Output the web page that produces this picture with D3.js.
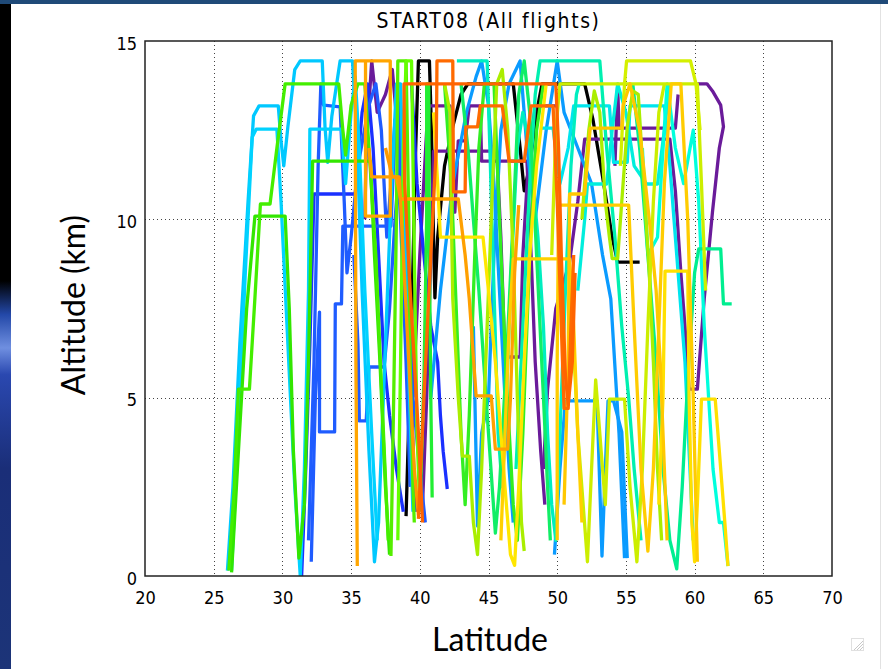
<!DOCTYPE html>
<html><head><meta charset="utf-8">
<script src="https://cdn.jsdelivr.net/npm/d3@7/dist/d3.min.js"></script>
<style>body{margin:0;background:#fff}svg{display:block}</style>
</head><body>
<script>
// ---- data: each flight is a list of [latitude, altitude km] ----
const xTicks = [20,25,30,35,40,45,50,55,60,65,70];
const yTicks = [0,5,10,15];
const title = "START08 (All flights)";

const flight01 = [[39.0,1.68],[39.4,7.0],[39.7,12.0],[39.9,14.44],[40.7,14.44],[40.85,12.5],[41.0,9.5],[41.1,7.8],[41.3,9.5],[41.8,11.5],[42.4,12.6],[43.0,13.5],[43.5,13.8],[46.8,13.8],[47.3,12.0],[47.6,10.8],[48.0,11.5],[48.5,13.0],[48.9,13.8],[52.0,13.8],[52.6,12.8],[53.3,11.2],[54.0,9.5],[54.4,8.8],[56.0,8.8]];
const flight02 = [[36.0,10.0],[36.1,12.0],[36.5,14.44],[36.9,13.0],[37.5,13.5],[38.0,14.2],[38.5,12.0],[39.0,9.0],[39.3,7.5],[39.4,5.0],[39.6,2.5],[39.8,1.8]];
const flight03 = [[40.2,2.0],[40.5,5.0],[40.8,9.0],[41.0,11.91],[45.6,11.91],[45.9,9.5],[46.2,6.14],[47.3,6.14],[47.5,9.0],[47.9,11.6],[48.4,13.18],[50.1,13.18]];
const flight04 = [[39.5,5.0],[40.0,9.0],[40.5,12.5],[40.7,13.18],[42.2,13.18],[42.25,10.2],[42.55,10.2],[42.8,12.2],[43.3,12.2],[43.6,13.18],[44.4,13.18],[44.5,11.63],[47.8,11.63],[48.1,9.0],[48.4,6.0],[48.8,3.5],[49.1,2.0]];
const flight05 = [[49.0,3.0],[49.3,5.24],[49.9,7.5],[50.9,8.8],[51.5,10.5],[52.0,12.25],[58.2,12.25],[58.6,10.8],[59.0,8.5],[59.3,7.0],[59.6,5.24],[60.2,5.24],[60.7,7.77],[61.3,10.2],[61.8,12.0],[62.1,12.6],[61.9,13.2],[61.3,13.6],[60.9,13.8],[60.2,13.8]];
const flight06 = [[54.2,11.5],[54.4,13.74],[54.5,12.56],[58.6,12.56],[58.8,13.5]];
const flight07 = [[31.4,0.0],[31.7,3.0],[32.0,6.5],[32.3,10.71],[35.3,10.71],[35.8,13.0],[36.2,13.8],[36.6,12.0],[37.0,9.0],[37.4,6.0],[37.8,4.5],[38.3,3.0],[38.8,1.8]];
const flight08 = [[39.4,13.8],[39.8,11.0],[40.3,9.0],[40.8,7.0],[41.3,6.0],[41.5,4.5],[41.7,3.5],[42.0,2.44]];
const flight09 = [[32.1,0.4],[32.4,5.0],[32.7,7.4],[32.7,4.04],[33.8,4.04],[33.85,7.63],[34.3,7.63],[34.4,9.81],[37.9,9.81],[38.2,12.5],[38.4,13.6],[38.7,11.0],[39.0,7.0],[39.4,3.0],[39.6,1.8]];
const flight10 = [[31.9,1.0],[32.3,6.0],[32.6,11.5],[32.8,13.8],[33.0,13.2],[34.2,13.15],[34.5,10.5],[34.7,8.5],[35.0,9.5],[35.5,11.5],[36.3,13.2],[36.8,13.8],[37.2,12.5],[37.6,9.5],[37.9,11.0],[38.2,12.8],[38.6,10.0],[39.0,6.0],[39.3,2.5]];
const flight11 = [[35.2,9.0],[35.5,6.5],[35.6,4.35],[36.1,4.35],[36.3,5.86],[37.4,5.86],[37.8,7.5],[38.2,10.0],[38.6,12.0],[39.0,9.0],[39.5,5.0],[40.0,3.0],[40.4,1.5]];
const flight12 = [[49.8,0.6],[50.2,3.0],[50.6,4.91],[52.9,4.91],[53.1,2.5],[53.26,0.56],[53.5,3.0],[53.7,4.91],[54.1,4.91],[54.7,4.04],[55.1,0.5]];
const flight13 = [[43.9,7.0],[44.2,1.4],[44.5,4.0],[45.0,5.0],[45.4,9.0],[45.9,12.5],[46.5,13.8],[47.3,14.44],[47.8,12.0],[48.4,10.0],[49.2,12.5],[50.0,14.44],[50.5,13.0],[51.5,12.0],[52.5,11.0],[53.3,9.0],[53.9,7.77],[54.5,4.0],[54.9,0.5]];
const flight14 = [[40.8,5.0],[41.5,8.0],[42.4,11.0],[43.4,13.0],[44.1,14.0],[44.5,14.44],[45.0,13.2],[45.4,11.0],[45.8,8.0],[46.2,5.0],[46.5,3.0],[46.8,1.5]];
const flight15 = [[26.0,0.15],[26.4,2.5],[26.9,6.5],[27.5,10.5],[27.9,12.9],[28.3,13.18],[29.7,13.18],[29.9,12.2],[30.1,11.5],[30.4,12.6],[30.9,14.2],[31.3,14.44],[32.9,14.44],[33.1,12.6],[33.3,11.6],[33.6,12.9],[34.2,14.44],[35.1,14.44],[35.4,12.5],[35.8,8.0],[36.3,3.5],[36.7,0.4],[37.0,1.5],[37.4,5.5],[37.9,10.5],[38.3,13.8],[38.6,13.8],[39.1,7.0],[39.5,1.8]];
const flight16 = [[26.3,0.15],[26.8,4.2],[27.3,8.5],[27.8,12.3],[28.1,12.53],[29.6,12.53],[29.9,10.5],[30.4,6.5],[30.9,2.5],[31.3,0.0],[31.6,3.0],[31.9,8.0],[32.0,12.53],[34.3,12.53],[34.6,11.0],[35.0,13.0],[35.3,14.0],[35.6,12.0],[36.0,8.0],[36.5,4.0],[36.9,1.0]];
const flight17 = [[48.75,12.56],[49.7,12.56],[50.2,11.0],[50.8,12.0],[51.2,13.18],[53.8,13.18],[54.1,11.6],[55.1,11.6],[55.3,13.18],[57.8,13.18],[58.2,11.5],[58.7,9.0],[59.3,6.0],[59.6,3.5],[59.9,1.0]];
const flight18 = [[51.5,8.0],[52.0,10.0],[52.2,10.99],[53.6,10.99],[54.0,12.5],[54.4,13.8],[55.0,13.0],[55.6,11.5],[56.5,10.99],[57.3,10.99],[57.8,12.5],[58.2,13.8]];
const flight19 = [[56.2,12.0],[56.6,9.0],[57.3,9.5],[58.0,13.8],[58.6,12.0],[59.2,11.0],[59.9,12.5],[60.3,10.5],[60.7,7.0],[61.1,4.5],[61.34,3.0],[61.8,1.5],[62.1,1.5],[62.43,0.28]];
const flight20 = [[42.7,14.44],[44.9,14.44],[45.1,12.0],[45.4,8.0],[45.7,4.0],[46.0,2.5],[46.3,5.0],[46.7,9.0],[47.1,12.0],[47.5,13.0],[48.0,12.0],[48.6,9.5],[49.0,7.0],[49.3,4.0],[49.6,2.0],[49.9,1.0],[50.2,4.0],[50.6,8.0],[51.0,11.5],[51.4,13.5],[51.6,13.8]];
const flight21 = [[47.0,3.0],[47.5,7.0],[48.0,11.0],[48.4,13.5],[48.75,14.44],[53.1,14.44],[53.6,12.0],[54.2,9.5],[54.7,7.0],[55.2,5.0],[55.6,3.0],[56.1,1.0]];
const flight22 = [[55.5,13.8],[56.0,12.0],[56.6,9.0],[57.2,6.0],[57.7,3.0],[58.2,1.0],[58.7,0.2],[59.1,2.5],[59.5,5.5],[60.0,8.5],[60.3,9.17],[61.9,9.17],[62.1,7.63],[62.7,7.63]];
const flight23 = [[43.0,13.8],[43.5,12.0],[44.3,8.0],[45.0,4.0],[45.5,1.2],[45.8,2.5],[46.3,6.0],[46.8,10.0],[47.2,13.5],[47.6,14.44],[48.0,13.0],[48.5,9.0],[49.0,5.0],[49.3,2.5],[49.5,1.0]];
const flight24 = [[40.0,1.8],[40.3,5.5],[40.5,10.0],[40.5,13.8],[40.65,13.8],[40.7,9.0],[40.8,5.0],[40.9,2.2]];
const flight25 = [[41.8,13.8],[42.3,11.0],[42.7,7.0],[43.0,4.0],[43.3,2.0],[43.6,4.5],[44.0,9.0],[44.3,12.0],[44.7,13.8],[45.4,13.8],[45.8,10.0],[46.3,5.5],[46.8,2.0],[47.1,1.0],[47.5,4.0],[48.0,9.0],[48.5,12.5],[49.0,13.8]];
const flight26 = [[26.3,0.1],[26.8,3.5],[27.4,7.5],[28.0,10.09],[30.2,10.09],[30.5,7.5],[30.8,3.5],[31.2,0.5],[31.6,2.0],[31.9,6.0],[32.2,11.63],[36.4,11.63],[36.7,9.0],[37.1,6.0],[37.5,2.5],[37.8,0.6]];
const flight27 = [[26.1,0.15],[26.5,2.5],[26.8,5.24],[27.6,5.24],[28.0,7.8],[28.4,10.43],[29.1,10.43],[29.6,12.0],[30.2,13.8],[34.1,13.8],[34.4,12.5],[34.6,11.8],[35.0,13.2],[35.5,13.8],[36.0,13.8],[36.8,9.0],[37.3,4.5],[37.7,1.0]];
const flight28 = [[37.9,0.56],[38.1,5.0],[38.3,10.0],[38.4,14.44],[39.0,14.44],[39.2,10.0],[39.3,6.0],[39.5,2.5],[39.6,1.5]];
const flight29 = [[38.4,1.0],[38.6,6.0],[38.8,12.0],[39.0,14.44],[39.4,14.44],[39.6,9.0],[39.8,4.0],[40.0,1.9]];
const flight30 = [[41.8,13.8],[42.2,13.0],[42.3,10.0],[42.4,7.77],[42.8,5.0],[43.1,3.36],[43.6,3.36],[43.9,1.5],[44.2,0.6],[44.5,3.0],[44.9,7.0],[45.3,11.0],[45.6,13.8],[46.0,14.2],[46.4,12.5],[46.8,9.0],[47.1,5.0],[47.4,1.5],[47.6,0.7]];
const flight31 = [[51.8,10.0],[52.3,12.5],[52.7,13.6],[53.1,13.0],[53.5,10.5],[53.8,9.5],[54.0,8.9],[54.4,8.9],[54.7,10.5],[55.1,12.6],[55.5,13.6],[55.9,13.5],[56.3,11.0],[56.7,8.5],[57.0,6.0],[57.3,3.0],[57.6,1.0]];
const flight32 = [[51.0,8.0],[51.5,4.0],[52.2,0.4],[52.5,3.0],[52.8,5.5],[53.2,3.5],[53.5,2.0],[53.8,4.96],[54.9,4.96],[55.3,2.5],[55.8,0.4],[56.2,3.0],[56.6,7.0],[57.0,10.5],[57.4,13.0],[57.8,13.8]];
const flight33 = [[49.6,9.0],[49.9,12.5],[50.2,13.8],[60.2,13.8],[60.5,11.0],[60.8,8.0]];
const flight34 = [[54.6,11.5],[54.9,13.8],[55.05,14.44],[59.7,14.44],[60.1,13.8],[60.4,12.5]];
const flight35 = [[41.0,13.0],[41.3,11.0],[41.5,9.5],[44.6,9.5],[45.0,8.0],[45.5,6.0],[45.9,4.0],[46.3,2.0],[46.6,0.6],[46.9,0.3],[47.2,2.5],[47.6,6.0],[48.0,9.0],[48.5,11.5],[49.2,13.8]];
const flight36 = [[57.4,2.0],[57.7,5.0],[57.85,8.55],[59.5,8.55],[59.6,5.0],[59.8,1.5],[60.0,0.4],[60.2,2.0],[60.5,4.96],[61.5,4.96],[61.8,3.5],[62.2,1.5],[62.43,0.28]];
const flight37 = [[45.9,1.0],[46.2,4.0],[46.5,7.0],[46.8,8.89],[50.9,8.89],[51.2,7.0],[51.5,4.0],[51.8,1.5]];
const flight38 = [[50.0,1.0],[50.0,6.0],[50.1,10.4],[55.2,10.4],[55.6,7.0],[56.1,3.0],[56.6,0.7],[57.0,3.0],[57.4,7.0],[57.8,11.0],[58.3,13.8],[59.0,13.8],[59.5,10.0],[59.9,5.0],[60.2,0.4]];
const flight39 = [[50.5,2.0],[50.8,6.0],[50.9,10.71],[52.0,10.71],[52.4,12.56],[54.7,12.56],[54.8,13.2],[55.3,13.8],[56.0,12.5],[56.7,10.0],[57.2,8.0],[57.5,6.0],[57.8,3.0],[58.0,1.0]];
const flight40 = [[35.45,0.28],[35.35,6.0],[35.3,13.8],[35.3,14.44],[37.85,14.44],[37.85,10.09],[36.05,10.09],[36.05,14.44]];
const flight41 = [[36.3,12.0],[36.5,11.19],[38.3,11.19],[38.6,10.57],[42.8,10.57],[43.3,9.0],[43.6,7.77],[44.1,5.05],[45.2,5.05],[45.5,3.56],[46.4,3.56],[46.6,5.0],[46.9,8.5],[47.2,10.4]];
const flight42 = [[37.5,12.0],[38.0,11.19],[38.5,11.19],[38.8,9.0],[39.2,6.0],[39.6,3.0],[39.9,1.7]];
const flight43 = [[39.9,1.6],[40.3,5.0],[40.8,9.0],[41.2,12.0],[41.25,14.44],[42.4,14.44],[42.45,10.77],[43.3,10.77],[43.35,12.59],[44.2,12.59],[44.4,13.18],[46.0,13.18],[46.5,11.63],[47.6,11.63],[48.1,13.18],[49.7,13.18],[50.0,10.5],[50.3,7.0],[50.5,4.7],[50.8,4.7],[51.0,7.0],[51.2,9.0]];
const flight44 = [[40.2,1.5],[39.9,4.0],[39.3,8.0],[38.9,11.0],[38.85,13.8],[49.9,13.8],[50.1,12.0],[50.3,9.0],[50.6,5.6],[50.8,4.8],[51.1,6.0],[51.3,8.5]];

const flights = [flight01,flight02,flight03,flight04,flight05,flight06,flight07,flight08,flight09,flight10,
  flight11,flight12,flight13,flight14,flight15,flight16,flight17,flight18,flight19,flight20,
  flight21,flight22,flight23,flight24,flight25,flight26,flight27,flight28,flight29,flight30,
  flight31,flight32,flight33,flight34,flight35,flight36,flight37,flight38,flight39,flight40,
  flight41,flight42,flight43,flight44];

// ---- styles ----
const flightColors = ["#000000","#6a1b9a","#6a1b9a","#6a1b9a","#6a1b9a","#6a1b9a",
  "#1a30ff","#1a30ff","#1f5cff","#1f5cff","#1f5cff","#0a9bff","#0a9bff","#0a9bff",
  "#00c8ff","#00d2ff","#00e5ee","#00eedd","#00ffdd","#00eec0","#00f0b0","#00ee90",
  "#11ee66","#22ee33","#33ee22","#33e600","#44ee00","#55ee00","#66ff00","#aaee00",
  "#aaee00","#ccee00","#ccee00","#d4f000","#ffe600","#ffe000","#ffd000","#ffcc00",
  "#ffc800","#ffa500","#ffa000","#ff9900","#ff6a00","#ff6400"];

(function(){
const W = 888, H = 669;
const svg = d3.select("body").append("svg").attr("width", W).attr("height", H);

// slide decoration
const defs = svg.append("defs");
const g1 = defs.append("linearGradient").attr("id","side").attr("x1",0).attr("y1",0).attr("x2",0).attr("y2",1);
[[0,"#000"],[0.42,"#000"],[0.47,"#2348a8"],[0.52,"#6f8fe0"],[0.56,"#2a48b0"],[0.7,"#1a2e78"],[1,"#1c3478"]]
  .forEach(([o,c]) => g1.append("stop").attr("offset",o).attr("stop-color",c));
svg.append("rect").attr("x",0).attr("y",0).attr("width",11).attr("height",H).attr("fill","url(#side)");
svg.append("rect").attr("x",0).attr("y",0).attr("width",W).attr("height",4).attr("fill","#1f4a78");
svg.append("rect").attr("x",880).attr("y",4).attr("width",1).attr("height",H).attr("fill","#e2e2e2");

const pL = 145, pR = 832, pT = 41, pB = 576;
const x = d3.scaleLinear().domain([20,70]).range([pL,pR]);
const y = d3.scaleLinear().domain([0,15]).range([pB,pT]);

defs.append("clipPath").attr("id","plot").append("rect")
  .attr("x",pL).attr("y",pT).attr("width",pR-pL).attr("height",pB-pT);

// grid
const grid = svg.append("g").attr("stroke","#444").attr("stroke-width",1).attr("stroke-dasharray","1,3");
grid.selectAll(".gx").data(xTicks.filter(d => d>20 && d<70)).join("line").attr("class","gx")
  .attr("x1",d=>Math.round(x(d))+0.5).attr("x2",d=>Math.round(x(d))+0.5).attr("y1",pT).attr("y2",pB);
grid.selectAll(".gy").data(yTicks.filter(d => d>0 && d<15)).join("line").attr("class","gy")
  .attr("y1",d=>Math.round(y(d))+0.5).attr("y2",d=>Math.round(y(d))+0.5).attr("x1",pL).attr("x2",pR);

// flights
const line = d3.line().x(d=>x(d[0])).y(d=>y(d[1]));
svg.append("g").attr("clip-path","url(#plot)").selectAll("path").data(flights).join("path")
  .attr("d", line).attr("fill","none")
  .attr("stroke",(d,i)=>flightColors[i]).attr("stroke-width",3.3).attr("stroke-linejoin","round");

// frame
svg.append("rect").attr("x",pL).attr("y",pT).attr("width",pR-pL).attr("height",pB-pT)
  .attr("fill","none").attr("stroke","#222").attr("stroke-width",1.5);

// axes (labels only, like IDL)
const tickFont = "'DejaVu Sans Condensed','DejaVu Sans',sans-serif";
const xAxis = d3.axisBottom(x).tickValues(xTicks).tickSize(0).tickPadding(15);
svg.append("g").attr("transform",`translate(0,${pB})`).call(xAxis)
  .call(g=>g.select(".domain").remove())
  .call(g=>g.selectAll("text").attr("font-family",tickFont).attr("font-size",18).attr("fill","#000"));
const yAxis = d3.axisLeft(y).tickValues(yTicks).tickSize(0).tickPadding(8);
svg.append("g").attr("transform",`translate(${pL},0)`).call(yAxis)
  .call(g=>g.select(".domain").remove())
  .call(g=>g.selectAll("text").attr("font-family",tickFont).attr("font-size",18).attr("fill","#000").attr("dy","0.45em"));

svg.append("text").attr("x",(pL+pR)/2).attr("y",28).attr("text-anchor","middle")
  .attr("font-family",tickFont).attr("font-size",21).attr("letter-spacing",1.6).text(title);

const labFont = "Lato, 'Open Sans', sans-serif";
svg.append("text").attr("x",490).attr("y",651).attr("text-anchor","middle")
  .attr("font-family",labFont).attr("font-size",32).text("Latitude");
svg.append("text").attr("transform","translate(85,305) rotate(-90)").attr("text-anchor","middle")
  .attr("font-family",labFont).attr("font-size",32).text("Altitude (km)");

// resize glyph
const rg = svg.append("g").attr("stroke","#c8c8c8").attr("stroke-width",1);
rg.append("rect").attr("x",851.5).attr("y",638.5).attr("width",12).attr("height",12).attr("fill","none").attr("stroke","#e0e0e0");
[[854,650,863,641],[857,650,863,644],[860,650,863,647]].forEach(p=>rg.append("line").attr("x1",p[0]).attr("y1",p[1]).attr("x2",p[2]).attr("y2",p[3]));
})();
</script>
</body></html>
